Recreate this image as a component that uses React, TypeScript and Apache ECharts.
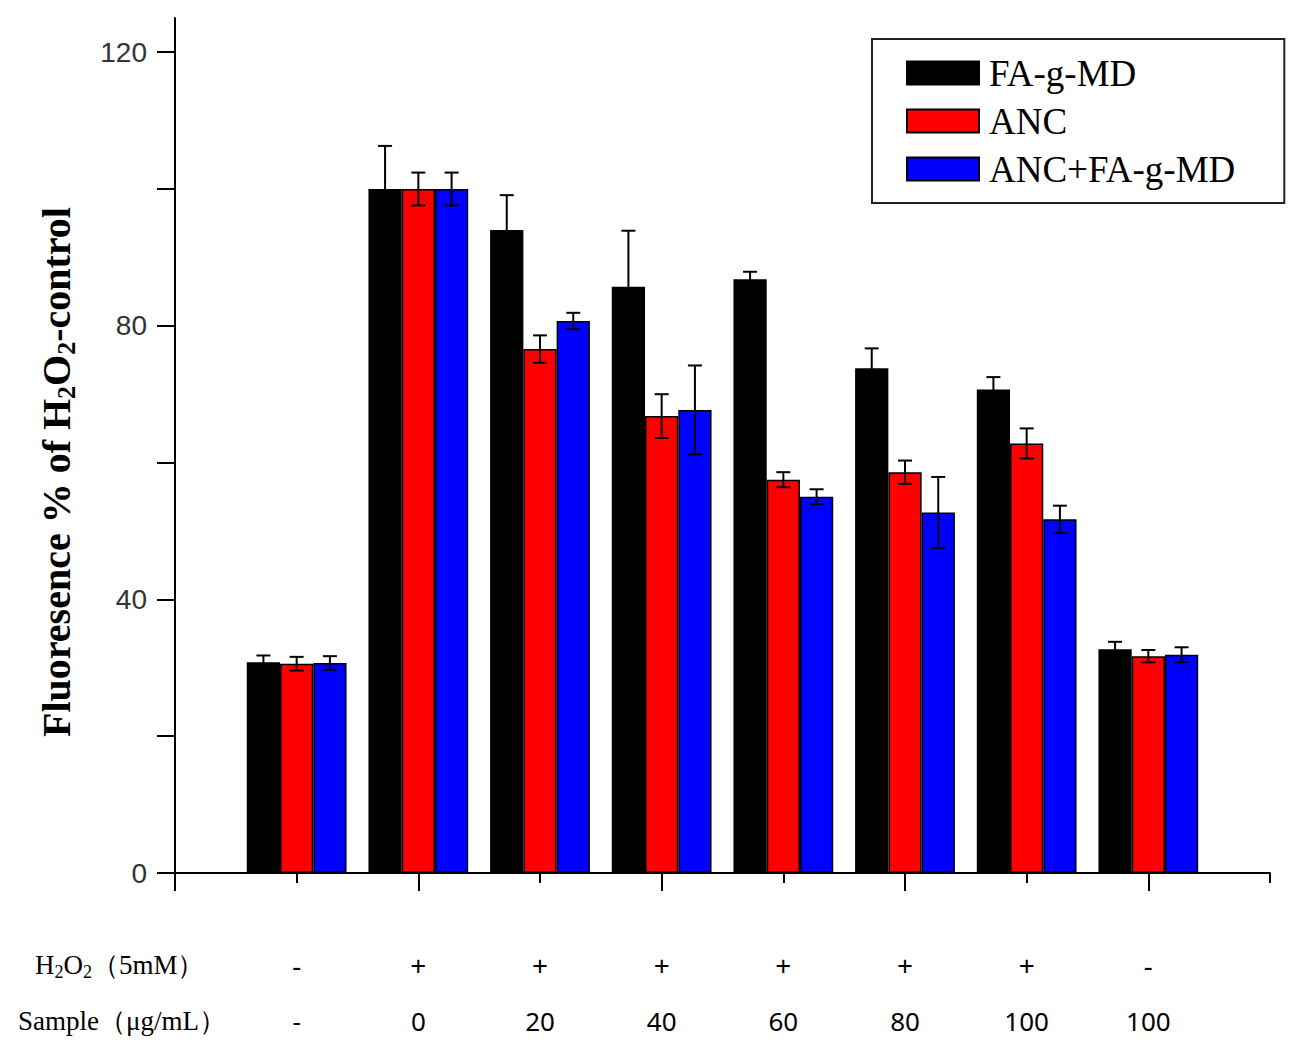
import React, { useEffect, useRef } from 'react';
import * as echarts from 'echarts';

// ---------- data ----------
const seriesNames = ['FA-g-MD', 'ANC', 'ANC+FA-g-MD'];
const seriesColors = ['#000000', '#ff0000', '#0000ff'];
const groupPositions = [1, 2, 3, 4, 5, 6, 7, 8];

const faMeans = [30.8, 100, 94.0, 85.7, 86.8, 73.8, 70.7, 32.7];
const faErrors = [1.0, 6.3, 5.1, 8.2, 1.1, 2.9, 1.8, 1.1];
const ancMeans = [30.6, 100, 76.6, 66.8, 57.5, 58.6, 62.8, 31.7];
const ancErrors = [1.0, 2.4, 2.0, 3.2, 1.1, 1.7, 2.2, 0.9];
const comboMeans = [30.7, 100, 80.7, 67.7, 55.0, 52.7, 51.7, 31.9];
const comboErrors = [1.0, 2.4, 1.2, 6.5, 1.1, 5.2, 2.0, 1.1];

const h2o2Labels = ['-', '+', '+', '+', '+', '+', '+', '-'];
const sampleLabels = ['-', '0', '20', '40', '60', '80', '100', '100'];

const yTickValues = [0, 20, 40, 60, 80, 100, 120];
const yLabelValues = [0, 40, 80, 120];
const xMajorTicks = [0, 2, 4, 6, 8];
const xMinorTicks = [1, 3, 5, 7, 9];

const allMeans = [faMeans, ancMeans, comboMeans];
const allErrors = [faErrors, ancErrors, comboErrors];

const CATEGORY_GAP = 0.18;

export default function App() {
  const ref = useRef<HTMLDivElement>(null);

  useEffect(() => {
    if (!ref.current) return;
    const chart = echarts.init(ref.current, null, { renderer: 'svg' });

    const barSeries = seriesNames.map((name, k) => ({
      name,
      type: 'bar',
      xAxisIndex: 0,
      yAxisIndex: 0,
      barGap: '0%',
      barCategoryGap: CATEGORY_GAP * 100 + '%',
      itemStyle: { color: seriesColors[k], borderColor: '#000', borderWidth: 1.5 },
      data: groupPositions.map((x, i) => [x, allMeans[k][i]]),
      z: 2,
    }));

    const errSeries = seriesNames.map((name, k) => ({
      name: 'err-' + name,
      type: 'custom',
      xAxisIndex: 0,
      yAxisIndex: 0,
      encode: { x: 0, y: 1 },
      z: 5,
      data: groupPositions.map((x, i) => [x, allMeans[k][i], allErrors[k][i]]),
      renderItem: (params: any, api: any) => {
        const x = api.value(0);
        const y = api.value(1);
        const e = api.value(2);
        const band = api.size([1, 0])[0];
        const bw = (band * (1 - CATEGORY_GAP)) / 3;
        const cx = api.coord([x, y])[0] + (k - 1) * bw;
        const top = api.coord([x, y + e])[1];
        const bot = api.coord([x, y - e])[1];
        const cap = 7;
        const ls = { stroke: '#000', lineWidth: 2 };
        return {
          type: 'group',
          children: [
            { type: 'line', shape: { x1: cx, y1: top, x2: cx, y2: bot }, style: ls },
            { type: 'line', shape: { x1: cx - cap, y1: top, x2: cx + cap, y2: top }, style: ls },
            { type: 'line', shape: { x1: cx - cap, y1: bot, x2: cx + cap, y2: bot }, style: ls },
          ],
        };
      },
    }));

    const option: any = {
      animation: false,
      backgroundColor: '#ffffff',
      grid: { left: 175, right: 33, top: 18, bottom: 187 },
      legend: {
        data: seriesNames,
        orient: 'vertical',
        left: 872,
        top: 39,
        icon: 'rect',
        itemWidth: 72,
        itemHeight: 23,
        itemGap: 8,
        padding: [14, 49, 14, 34],
        borderColor: '#222',
        borderWidth: 2,
        backgroundColor: '#ffffff',
        textStyle: {
          fontFamily: 'Liberation Serif',
          fontSize: 37,
          color: '#000',
          lineHeight: 40,
          padding: [0, 0, 0, 5],
        },
      },
      xAxis: [
        {
          type: 'value',
          min: 0,
          max: 9,
          position: 'bottom',
          axisLine: { show: true, onZero: false, lineStyle: { color: '#000', width: 2 } },
          axisTick: { show: true, customValues: xMajorTicks, length: 18, lineStyle: { color: '#000', width: 2 } },
          axisLabel: {
            show: true,
            customValues: groupPositions,
            margin: 64,
            formatter: (v: number) => {
              const i = groupPositions.indexOf(v);
              if (i < 0) return '';
              return '{a|' + h2o2Labels[i] + '}\n{b|' + sampleLabels[i] + '}';
            },
            rich: {
              a: { fontFamily: 'Noto Sans', fontSize: 28, lineHeight: 56, color: '#000' },
              b: { fontFamily: 'Noto Sans', fontSize: 26, lineHeight: 56, color: '#000' },
            },
          },
          splitLine: { show: false },
        },
        {
          type: 'value',
          min: 0,
          max: 9,
          position: 'bottom',
          axisLine: { show: false, onZero: false },
          axisTick: { show: true, customValues: xMinorTicks, length: 10, lineStyle: { color: '#000', width: 2 } },
          axisLabel: { show: false },
          splitLine: { show: false },
        },
      ],
      yAxis: {
        type: 'value',
        min: 0,
        max: 125,
        axisLine: { show: true, lineStyle: { color: '#000', width: 2 } },
        axisTick: { show: true, customValues: yTickValues, length: 18, lineStyle: { color: '#000', width: 2 } },
        axisLabel: {
          show: true,
          customValues: yLabelValues,
          margin: 28,
          fontFamily: 'Liberation Sans',
          fontSize: 28,
          color: '#333',
          formatter: (v: number) => (v % 40 === 0 ? String(v) : ''),
        },
        splitLine: { show: false },
      },
      graphic: [
        {
          type: 'text',
          x: 56,
          y: 472,
          rotation: Math.PI / 2,
          style: {
            text: 'Fluoresence % of H{sub|2}O{sub|2}-control',
            fontFamily: 'Liberation Serif',
            fontWeight: 'bold',
            fontSize: 40,
            lineHeight: 46,
            fill: '#000',
            align: 'center',
            verticalAlign: 'middle',
            rich: {
              sub: {
                fontFamily: 'Liberation Serif',
                fontWeight: 'bold',
                fontSize: 26,
                lineHeight: 20,
                verticalAlign: 'bottom',
                fill: '#000',
              },
            },
          },
        },
        {
          type: 'text',
          x: 35,
          y: 965,
          style: {
            text: 'H{sub|2}O{sub|2}（5mM）',
            fontFamily: 'Liberation Serif',
            fontSize: 27,
            lineHeight: 32,
            fill: '#000',
            align: 'left',
            verticalAlign: 'middle',
            rich: {
              sub: {
                fontFamily: 'Liberation Serif',
                fontSize: 18,
                lineHeight: 14,
                verticalAlign: 'bottom',
                fill: '#000',
              },
            },
          },
        },
        {
          type: 'text',
          x: 18,
          y: 1021,
          style: {
            text: 'Sample（μg/mL）',
            fontFamily: 'Liberation Serif',
            fontSize: 27,
            fill: '#000',
            align: 'left',
            verticalAlign: 'middle',
          },
        },
      ],
      series: [...barSeries, ...errSeries],
    };

    chart.setOption(option);
    return () => chart.dispose();
  }, []);

  return (
    <div
      ref={ref}
      style={{ position: 'absolute', left: 0, top: 0, width: 1303, height: 1060, background: '#fff' }}
    />
  );
}
